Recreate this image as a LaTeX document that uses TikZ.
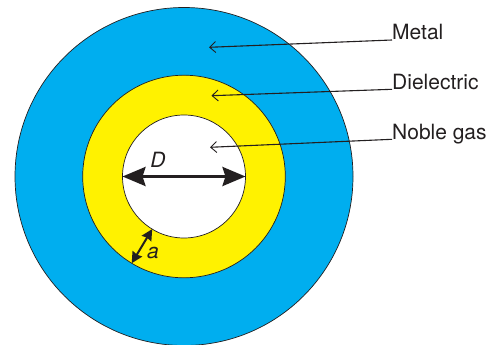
\documentclass[tikz,border=0pt]{standalone}
\usepackage{fontspec}
\setmainfont{TeX Gyre Heros}
\usetikzlibrary{arrows.meta}
\definecolor{metalblue}{HTML}{00AEEF}
\definecolor{dieyellow}{HTML}{FFF200}
\definecolor{inkgray}{HTML}{231F20}
\tikzset{
  ring/.style={draw=inkgray, line width=0.7pt},
  textlabel/.style={anchor=base west, inner sep=0pt, font=\fontsize{21}{24}\selectfont, text=inkgray},
  leader/.style={draw=inkgray, line width=1.1pt, -{Straight Barb[length=6pt,width=11pt,line width=0.9pt]}},
  dimarrow/.style={draw=inkgray, line width=3pt, {Stealth[length=23pt,width=19pt,inset=3pt]}-{Stealth[length=23pt,width=19pt,inset=3pt]}},
  smallarrow/.style={draw=inkgray, line width=2pt, {Stealth[length=11pt,width=11pt,inset=1pt]}-{Stealth[length=11pt,width=11pt,inset=1pt]}},
  dimlabel/.style={inner sep=0pt, font=\fontsize{21}{24}\selectfont\itshape, text=inkgray}
}
\begin{document}
\begin{tikzpicture}[x=1pt,y=-1pt]
\useasboundingbox (0,0) rectangle (495,345);
\coordinate (c) at (184,176.5);
\fill[metalblue] (c) circle (169);
\draw[ring] (c) circle (169);
\filldraw[ring, fill=dieyellow] (c) circle (101.3);
\filldraw[ring, fill=white] (c) circle (61.5);
% D arrow
\coordinate (dl) at (122.5,176.5);
\coordinate (dr) at (245.5,176.5);
\draw[dimarrow] (dl) -- (dr);
\node[dimlabel] (D) at (158,160) {D};
% a arrow
\path (c) ++(-31.8,52.6) coordinate (ain);
\path (c) ++(-52.3,86.7) coordinate (aout);
\draw[smallarrow] (ain) -- (aout);
\node[dimlabel] (a) at (153,253) {a};
% labels
\node[textlabel] (metal) at (392,40) {Metal};
\node[textlabel] (diel) at (392,89.3) {Dielectric};
\node[textlabel] (gas) at (392,139.3) {Noble gas};
\coordinate (pm) at (209,47.3);
\coordinate (pd) at (211.5,95.7);
\coordinate (pg) at (210,147.3);
\draw[leader] (metal.base west) -- (pm);
\draw[leader] (diel.base west) -- (pd);
\draw[leader] (gas.base west) -- (pg);
\end{tikzpicture}
\end{document}
